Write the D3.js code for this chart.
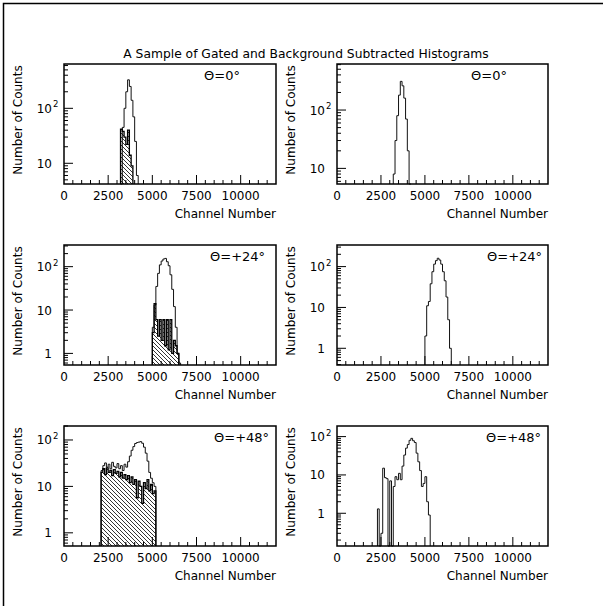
<!DOCTYPE html>
<html>
<head>
<meta charset="utf-8">
<script src="https://cdn.jsdelivr.net/npm/d3@7"></script>
<style>
  body { margin: 0; background: #fff; }
  text { font-family: "DejaVu Sans", sans-serif; fill: #000; }
</style>
</head>
<body>
<div id="chart"></div>
<script>
// bin width of every histogram, in channels
const binWidth = 100

const xTicks = [0, 2500, 5000, 7500, 10000]
const titleText = 'A Sample of Gated and Background Subtracted Histograms'
const angleLabels = ['Θ=0°', 'Θ=0°', 'Θ=+24°', 'Θ=+24°', 'Θ=+48°', 'Θ=+48°']

// row 1 : theta = 0
const p1Start = 3200
const p1Total = [0, 45, 100, 200, 330, 250, 140, 70, 25, 6]
const p1Gated = [42, 38, 30, 22, 40, 14, 9]
const p2Start = 3200
const p2Total = [8, 30, 80, 180, 310, 260, 160, 70, 20, 5]

// row 2 : theta = +24
const p3Start = 5000
const p3Total = [4, 13, 35, 70, 110, 135, 150, 155, 130, 105, 65, 30, 12, 4, 1, 0.6]
const p3Gated = [3, 14, 6, 2.5, 6, 2, 6, 1.5, 6, 1.2, 6, 1, 2, 1.5, 1]
const p4Start = 5000
const p4Total = [2, 11, 14, 38, 75, 115, 140, 160, 145, 115, 75, 45, 18, 5, 1]

// row 3 : theta = +48
const p5Start = 2100
const p5Total = [22, 28, 32, 26, 30, 24, 33, 27, 25, 31, 24, 28, 22, 30, 26, 34,
  45, 60, 72, 84, 88, 90, 92, 85, 70, 52, 35, 20, 15, 12, 10]
const p5Gated = [20, 24, 18, 25, 20, 22, 17, 23, 19, 21, 16, 20, 15, 18, 14, 17,
  12, 16, 11, 14, 5.7, 13, 10, 4.3, 12, 9, 14, 8, 11, 7, 8]
const p6Start = 2300
const p6Total = [1.3, 0, 0.3, 15, 8.5, 8, 0, 7, 0, 5, 9, 7.5, 11, 7.5, 17, 33, 50,
  62, 80, 90, 78, 70, 37, 22, 13, 5, 6, 9, 2, 0.9]

// y ranges (counts) of each pad
const yDomains = [[4.2, 640], [5.4, 615], [0.54, 316], [0.39, 338], [0.52, 200], [0.14, 189]]

const panels = [
  {start: p1Start, total: p1Total, gated: p1Gated},
  {start: p2Start, total: p2Total},
  {start: p3Start, total: p3Total, gated: p3Gated},
  {start: p4Start, total: p4Total},
  {start: p5Start, total: p5Total, gated: p5Gated},
  {start: p6Start, total: p6Total}
]

const W = 603, H = 606
const colX = [64, 337], rowY = [64, 245, 426]
const padW = 212, padH = 120
// where the angle label starts, from the pad's left edge
const labelOffsets = [140, 134, 146, 150, 150, 149]

let svg = d3.select('#chart')
  .append('svg')
  .attr('width', W)
  .attr('height', H)

// hatch for the gated histograms
svg.append('defs')
  .append('pattern')
  .attr('id', 'hatch')
  .attr('patternUnits', 'userSpaceOnUse')
  .attr('width', 4)
  .attr('height', 4)
  .append('path')
  .attr('d', 'M-1,-1L5,5M-1,3L1,5M3,-1L5,1')
  .attr('stroke', '#000')
  .attr('stroke-width', 0.8)

// page frame
svg.append('rect')
  .attr('x', 3.5).attr('y', 3.5)
  .attr('width', 800).attr('height', 800)
  .attr('fill', 'none')
  .attr('stroke', '#000')
  .attr('stroke-width', 1.5)

svg.append('text')
  .attr('x', 306)
  .attr('y', 58)
  .attr('text-anchor', 'middle')
  .attr('font-size', 12.3)
  .text(titleText)

function histPath(start, counts, x, y, y0) {
  let pts = [[x(start), y0]]
  counts.forEach((c, i) => {
    let yy = c > 0 ? y(c) : y0
    pts.push([x(start + i * binWidth), yy])
    pts.push([x(start + (i + 1) * binWidth), yy])
  })
  pts.push([x(start + counts.length * binWidth), y0])
  return d3.line()(pts)
}

function drawPanel(p, i) {
  let col = i % 2, row = Math.floor(i / 2)
  let x0 = colX[col], y0 = rowY[row]
  let w = col === 0 ? padW : padW - 1
  let g = svg.append('g').attr('transform', `translate(${x0},${y0})`)

  let x = d3.scaleLinear().domain([0, 12000]).range([0, w])
  let y = d3.scaleLog().domain(yDomains[i]).range([padH, 0]).clamp(true)

  // x ticks, inward
  let minor = d3.range(500, 12000, 500)
  g.selectAll('.xt')
    .data(minor)
    .enter()
    .append('line')
    .attr('x1', d => x(d)).attr('x2', d => x(d))
    .attr('y1', padH)
    .attr('y2', d => d % 2500 === 0 ? padH - 9 : padH - 4)
    .attr('stroke', '#000')

  g.selectAll('.xl')
    .data(xTicks)
    .enter()
    .append('text')
    .attr('x', d => x(d))
    .attr('y', padH + 16)
    .attr('text-anchor', 'middle')
    .attr('font-size', 12)
    .text(d => d)

  // y ticks (log), inward
  let lo = yDomains[i][0], hi = yDomains[i][1]
  let logTicks = []
  for (let e = -1; e <= 3; e++) {
    for (let m = 1; m <= 9; m++) {
      let v = m * Math.pow(10, e)
      if (v >= lo && v <= hi) logTicks.push({v: v, major: m === 1, e: e})
    }
  }
  g.selectAll('.yt')
    .data(logTicks)
    .enter()
    .append('line')
    .attr('x1', 0)
    .attr('x2', d => d.major ? 9 : 4)
    .attr('y1', d => y(d.v)).attr('y2', d => y(d.v))
    .attr('stroke', '#000')

  g.selectAll('.yl')
    .data(logTicks.filter(d => d.major && d.e >= 0))
    .enter()
    .append('text')
    .attr('x', -12)
    .attr('y', d => y(d.v) + 4.5)
    .attr('text-anchor', 'end')
    .attr('font-size', 12)
    .text(d => d.e === 2 ? '10' : String(d.v))
  g.selectAll('.ys')
    .data(logTicks.filter(d => d.major && d.e === 2))
    .enter()
    .append('text')
    .attr('x', -11)
    .attr('y', d => y(d.v) - 1)
    .attr('font-size', 8.5)
    .text('2')

  // histograms
  g.append('path')
    .attr('d', histPath(p.start, p.total, x, y, padH))
    .attr('fill', 'none')
    .attr('stroke', '#111')
    .attr('stroke-width', 1)
  if (p.gated) {
    g.append('path')
      .attr('d', histPath(p.start, p.gated, x, y, padH))
      .attr('fill', 'url(#hatch)')
      .attr('stroke', '#000')
      .attr('stroke-width', 1.3)
  }

  // frame
  g.append('rect')
    .attr('width', w).attr('height', padH)
    .attr('fill', 'none')
    .attr('stroke', '#000')
    .attr('stroke-width', 1.5)

  g.append('text')
    .attr('x', labelOffsets[i])
    .attr('y', 16)
    .attr('font-size', 13)
    .text(angleLabels[i])

  g.append('text')
    .attr('x', w)
    .attr('y', padH + 34)
    .attr('text-anchor', 'end')
    .attr('font-size', 12)
    .text('Channel Number')

  g.append('text')
    .attr('transform', `translate(-46,${padH / 2 - 4}) rotate(-90)`)
    .attr('dy', '0.35em')
    .attr('text-anchor', 'middle')
    .attr('font-size', 12)
    .text('Number of Counts')
}

panels.forEach(drawPanel)
</script>
</body>
</html>
